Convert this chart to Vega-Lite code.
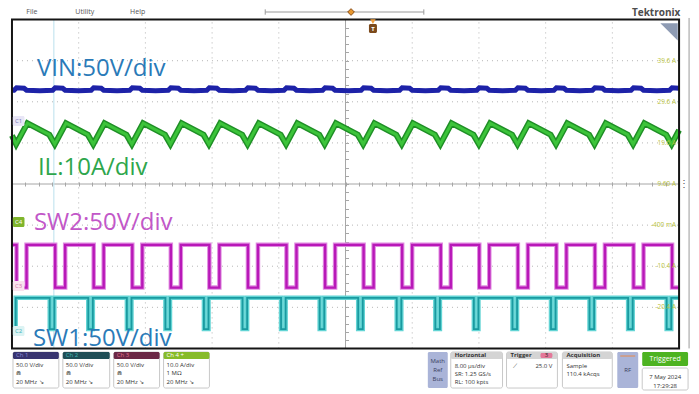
{
"$schema":"https://vega.github.io/schema/vega-lite/v6.json",
"width":699,"height":394,
"autosize":{"type":"fit","contains":"padding"},
"padding":0,
"background":"#ffffff",
"config":{"view":{"stroke":null},"font":"Open Sans"},
"datasets":{
"grid":[{"t":8,"v":-4,"t2":8,"v2":4},{"t":16,"v":-4,"t2":16,"v2":4},{"t":24,"v":-4,"t2":24,"v2":4},{"t":32,"v":-4,"t2":32,"v2":4},{"t":48,"v":-4,"t2":48,"v2":4},{"t":56,"v":-4,"t2":56,"v2":4},{"t":64,"v":-4,"t2":64,"v2":4},{"t":72,"v":-4,"t2":72,"v2":4},{"t":0,"v":-3,"t2":80,"v2":-3},{"t":0,"v":-2,"t2":80,"v2":-2},{"t":0,"v":-1,"t2":80,"v2":-1},{"t":0,"v":1,"t2":80,"v2":1},{"t":0,"v":2,"t2":80,"v2":2},{"t":0,"v":3,"t2":80,"v2":3}],
"center":[{"t":40,"v":-4,"t2":40,"v2":4},{"t":0,"v":0,"t2":80,"v2":0}],
"cursor":[{"t":5.02,"v":-4,"t2":5.02,"v2":4}],
"frame":[{"t":0,"v":-4,"t2":80,"v2":4}],
"rules_gray":[{"t":30.37,"v":4.185,"t2":49.39,"v2":4.185},{"t":30.37,"v":4.12,"t2":30.37,"v2":4.25},{"t":49.39,"v":4.12,"t2":49.39,"v2":4.25},{"t":81.2,"v":-4.0,"t2":81.2,"v2":4.04}],
"rf_line":[{"t":72.95,"v":-4.185,"t2":74.74,"v2":-4.185}],
"ruler_mark":[{"t":40.66,"v":4.185}],
"trig_tri":[{"t":43.29,"v":3.95}],
"magnifier":[{"t":78.8,"v":3.7}],
"vin":[{"t":0,"v":2.28},{"t":0.25,"v":2.28},{"t":0.55,"v":2.34},{"t":1.45,"v":2.33},{"t":1.75,"v":2.28},{"t":3.35,"v":2.27},
{"t":4.88,"v":2.28},{"t":5.18,"v":2.34},{"t":6.08,"v":2.33},{"t":6.38,"v":2.28},{"t":7.98,"v":2.27},
{"t":9.5,"v":2.28},{"t":9.8,"v":2.34},{"t":10.7,"v":2.33},{"t":11.0,"v":2.28},{"t":12.6,"v":2.27},
{"t":14.13,"v":2.28},{"t":14.43,"v":2.34},{"t":15.33,"v":2.33},{"t":15.63,"v":2.28},{"t":17.23,"v":2.27},
{"t":18.75,"v":2.28},{"t":19.05,"v":2.34},{"t":19.95,"v":2.33},{"t":20.25,"v":2.28},{"t":21.85,"v":2.27},
{"t":23.37,"v":2.28},{"t":23.67,"v":2.34},{"t":24.57,"v":2.33},{"t":24.87,"v":2.28},{"t":26.47,"v":2.27},
{"t":28.0,"v":2.28},{"t":28.3,"v":2.34},{"t":29.2,"v":2.33},{"t":29.5,"v":2.28},{"t":31.1,"v":2.27},
{"t":32.62,"v":2.28},{"t":32.92,"v":2.34},{"t":33.82,"v":2.33},{"t":34.12,"v":2.28},{"t":35.72,"v":2.27},
{"t":37.25,"v":2.28},{"t":37.55,"v":2.34},{"t":38.45,"v":2.33},{"t":38.75,"v":2.28},{"t":40.35,"v":2.27},
{"t":41.87,"v":2.28},{"t":42.17,"v":2.34},{"t":43.07,"v":2.33},{"t":43.37,"v":2.28},{"t":44.97,"v":2.27},
{"t":46.49,"v":2.28},{"t":46.79,"v":2.34},{"t":47.69,"v":2.33},{"t":47.99,"v":2.28},{"t":49.59,"v":2.27},
{"t":51.12,"v":2.28},{"t":51.42,"v":2.34},{"t":52.32,"v":2.33},{"t":52.62,"v":2.28},{"t":54.22,"v":2.27},
{"t":55.74,"v":2.28},{"t":56.04,"v":2.34},{"t":56.94,"v":2.33},{"t":57.24,"v":2.28},{"t":58.84,"v":2.27},
{"t":60.37,"v":2.28},{"t":60.67,"v":2.34},{"t":61.57,"v":2.33},{"t":61.87,"v":2.28},{"t":63.47,"v":2.27},
{"t":64.99,"v":2.28},{"t":65.29,"v":2.34},{"t":66.19,"v":2.33},{"t":66.49,"v":2.28},{"t":68.09,"v":2.27},
{"t":69.61,"v":2.28},{"t":69.91,"v":2.34},{"t":70.81,"v":2.33},{"t":71.11,"v":2.28},{"t":72.71,"v":2.27},
{"t":74.24,"v":2.28},{"t":74.54,"v":2.34},{"t":75.44,"v":2.33},{"t":75.74,"v":2.28},{"t":77.34,"v":2.27},
{"t":78.86,"v":2.28},{"t":79.16,"v":2.34},{"t":80,"v":2.33}],
"il":[{"t":0,"v":1.18},{"t":0.5,"v":0.97},{"t":1.85,"v":1.48},
{"t":4.48,"v":1.2},{"t":5.13,"v":0.97},{"t":6.48,"v":1.48},
{"t":9.1,"v":1.2},{"t":9.75,"v":0.97},{"t":11.1,"v":1.48},
{"t":13.73,"v":1.2},{"t":14.38,"v":0.97},{"t":15.73,"v":1.48},
{"t":18.35,"v":1.2},{"t":19.0,"v":0.97},{"t":20.35,"v":1.48},
{"t":22.97,"v":1.2},{"t":23.62,"v":0.97},{"t":24.97,"v":1.48},
{"t":27.6,"v":1.2},{"t":28.25,"v":0.97},{"t":29.6,"v":1.48},
{"t":32.22,"v":1.2},{"t":32.87,"v":0.97},{"t":34.22,"v":1.48},
{"t":36.85,"v":1.2},{"t":37.5,"v":0.97},{"t":38.85,"v":1.48},
{"t":41.47,"v":1.2},{"t":42.12,"v":0.97},{"t":43.47,"v":1.48},
{"t":46.09,"v":1.2},{"t":46.74,"v":0.97},{"t":48.09,"v":1.48},
{"t":50.72,"v":1.2},{"t":51.37,"v":0.97},{"t":52.72,"v":1.48},
{"t":55.34,"v":1.2},{"t":55.99,"v":0.97},{"t":57.34,"v":1.48},
{"t":59.97,"v":1.2},{"t":60.62,"v":0.97},{"t":61.97,"v":1.48},
{"t":64.59,"v":1.2},{"t":65.24,"v":0.97},{"t":66.59,"v":1.48},
{"t":69.21,"v":1.2},{"t":69.86,"v":0.97},{"t":71.21,"v":1.48},
{"t":73.84,"v":1.2},{"t":74.49,"v":0.97},{"t":75.84,"v":1.48},
{"t":78.46,"v":1.2},{"t":79.11,"v":0.97},{"t":80,"v":1.31}],
"sw2":[{"t":0,"v":-1.48},
{"t":0.55,"v":-1.48},{"t":0.55,"v":-2.52},{"t":1.75,"v":-2.52},{"t":1.75,"v":-1.48},
{"t":5.18,"v":-1.48},{"t":5.18,"v":-2.52},{"t":6.38,"v":-2.52},{"t":6.38,"v":-1.48},
{"t":9.8,"v":-1.48},{"t":9.8,"v":-2.52},{"t":11.0,"v":-2.52},{"t":11.0,"v":-1.48},
{"t":14.43,"v":-1.48},{"t":14.43,"v":-2.52},{"t":15.63,"v":-2.52},{"t":15.63,"v":-1.48},
{"t":19.05,"v":-1.48},{"t":19.05,"v":-2.52},{"t":20.25,"v":-2.52},{"t":20.25,"v":-1.48},
{"t":23.67,"v":-1.48},{"t":23.67,"v":-2.52},{"t":24.87,"v":-2.52},{"t":24.87,"v":-1.48},
{"t":28.3,"v":-1.48},{"t":28.3,"v":-2.52},{"t":29.5,"v":-2.52},{"t":29.5,"v":-1.48},
{"t":32.92,"v":-1.48},{"t":32.92,"v":-2.52},{"t":34.12,"v":-2.52},{"t":34.12,"v":-1.48},
{"t":37.55,"v":-1.48},{"t":37.55,"v":-2.52},{"t":38.75,"v":-2.52},{"t":38.75,"v":-1.48},
{"t":42.17,"v":-1.48},{"t":42.17,"v":-2.52},{"t":43.37,"v":-2.52},{"t":43.37,"v":-1.48},
{"t":46.79,"v":-1.48},{"t":46.79,"v":-2.52},{"t":47.99,"v":-2.52},{"t":47.99,"v":-1.48},
{"t":51.42,"v":-1.48},{"t":51.42,"v":-2.52},{"t":52.62,"v":-2.52},{"t":52.62,"v":-1.48},
{"t":56.04,"v":-1.48},{"t":56.04,"v":-2.52},{"t":57.24,"v":-2.52},{"t":57.24,"v":-1.48},
{"t":60.67,"v":-1.48},{"t":60.67,"v":-2.52},{"t":61.87,"v":-2.52},{"t":61.87,"v":-1.48},
{"t":65.29,"v":-1.48},{"t":65.29,"v":-2.52},{"t":66.49,"v":-2.52},{"t":66.49,"v":-1.48},
{"t":69.91,"v":-1.48},{"t":69.91,"v":-2.52},{"t":71.11,"v":-2.52},{"t":71.11,"v":-1.48},
{"t":74.54,"v":-1.48},{"t":74.54,"v":-2.52},{"t":75.74,"v":-2.52},{"t":75.74,"v":-1.48},
{"t":79.16,"v":-1.48},{"t":79.16,"v":-2.52},{"t":80,"v":-2.52}],
"sw1":[{"t":0,"v":-3.53},{"t":0.45,"v":-3.53},{"t":0.45,"v":-2.77},
{"t":4.53,"v":-2.77},{"t":4.53,"v":-3.53},{"t":5.08,"v":-3.53},{"t":5.08,"v":-2.77},
{"t":9.15,"v":-2.77},{"t":9.15,"v":-3.53},{"t":9.7,"v":-3.53},{"t":9.7,"v":-2.77},
{"t":13.78,"v":-2.77},{"t":13.78,"v":-3.53},{"t":14.33,"v":-3.53},{"t":14.33,"v":-2.77},
{"t":18.4,"v":-2.77},{"t":18.4,"v":-3.53},{"t":18.95,"v":-3.53},{"t":18.95,"v":-2.77},
{"t":23.02,"v":-2.77},{"t":23.02,"v":-3.53},{"t":23.57,"v":-3.53},{"t":23.57,"v":-2.77},
{"t":27.65,"v":-2.77},{"t":27.65,"v":-3.53},{"t":28.2,"v":-3.53},{"t":28.2,"v":-2.77},
{"t":32.27,"v":-2.77},{"t":32.27,"v":-3.53},{"t":32.82,"v":-3.53},{"t":32.82,"v":-2.77},
{"t":36.9,"v":-2.77},{"t":36.9,"v":-3.53},{"t":37.45,"v":-3.53},{"t":37.45,"v":-2.77},
{"t":41.52,"v":-2.77},{"t":41.52,"v":-3.53},{"t":42.07,"v":-3.53},{"t":42.07,"v":-2.77},
{"t":46.14,"v":-2.77},{"t":46.14,"v":-3.53},{"t":46.69,"v":-3.53},{"t":46.69,"v":-2.77},
{"t":50.77,"v":-2.77},{"t":50.77,"v":-3.53},{"t":51.32,"v":-3.53},{"t":51.32,"v":-2.77},
{"t":55.39,"v":-2.77},{"t":55.39,"v":-3.53},{"t":55.94,"v":-3.53},{"t":55.94,"v":-2.77},
{"t":60.02,"v":-2.77},{"t":60.02,"v":-3.53},{"t":60.57,"v":-3.53},{"t":60.57,"v":-2.77},
{"t":64.64,"v":-2.77},{"t":64.64,"v":-3.53},{"t":65.19,"v":-3.53},{"t":65.19,"v":-2.77},
{"t":69.26,"v":-2.77},{"t":69.26,"v":-3.53},{"t":69.81,"v":-3.53},{"t":69.81,"v":-2.77},
{"t":73.89,"v":-2.77},{"t":73.89,"v":-3.53},{"t":74.44,"v":-3.53},{"t":74.44,"v":-2.77},
{"t":78.51,"v":-2.77},{"t":78.51,"v":-3.53},{"t":79.06,"v":-3.53},{"t":79.06,"v":-2.77},
{"t":80,"v":-2.77}],
"labels":[{"label":"VIN:50V/div","t":2.99,"v":2.63,"g":"vin"},{"label":"IL:10A/div","t":3.11,"v":0.22,"g":"il"},{"label":"SW2:50V/div","t":2.63,"v":-1.12,"g":"sw2"},{"label":"SW1:50V/div","t":2.51,"v":-3.94,"g":"sw1"}],
"ui_box":[{"t":0.12,"t2":5.62,"v":-4.088,"v2":-4.964},{"t":6.1,"t2":11.72,"v":-4.088,"v2":-4.964},{"t":12.2,"t2":17.7,"v":-4.088,"v2":-4.964},{"t":18.18,"t2":23.68,"v":-4.088,"v2":-4.964},{"t":52.62,"t2":58.83,"v":-4.088,"v2":-4.964},{"t":59.31,"t2":65.41,"v":-4.088,"v2":-4.964},{"t":66.01,"t2":71.99,"v":-4.088,"v2":-4.964},{"t":75.58,"t2":81.08,"v":-4.477,"v2":-5.012}],
"ui_fill":[{"t":0.12,"t2":5.62,"v":-4.088,"v2":-4.258,"g":"ch1"},{"t":6.1,"t2":11.72,"v":-4.088,"v2":-4.258,"g":"ch2"},{"t":12.2,"t2":17.7,"v":-4.088,"v2":-4.258,"g":"ch3"},{"t":18.18,"t2":23.68,"v":-4.088,"v2":-4.258,"g":"ch4"},{"t":49.87,"t2":52.26,"v":-4.088,"v2":-4.964,"g":"lav"},{"t":52.62,"t2":58.83,"v":-4.088,"v2":-4.258,"g":"hdr"},{"t":59.31,"t2":65.41,"v":-4.088,"v2":-4.258,"g":"hdr"},{"t":63.38,"t2":64.81,"v":-4.112,"v2":-4.234,"g":"pink"},{"t":66.01,"t2":71.99,"v":-4.088,"v2":-4.258,"g":"hdr"},{"t":72.59,"t2":75.1,"v":-4.088,"v2":-4.964,"g":"lav"},{"t":75.58,"t2":81.08,"v":-4.088,"v2":-4.428,"g":"trig"},{"t":0.1,"t2":1.5,"v":1.411,"v2":1.655,"g":"b1"},{"t":0.1,"t2":1.5,"v":-0.803,"v2":-1.046,"g":"b4"},{"t":0.1,"t2":1.5,"v":-2.36,"v2":-2.603,"g":"b3"},{"t":0.1,"t2":1.5,"v":-3.455,"v2":-3.698,"g":"b2"},{"t":42.81,"t2":43.77,"v":3.674,"v2":3.893,"g":"brown"}],
"ui_text":[{"label":"File","t":2.39,"v":4.19,"g":"menu"},{"label":"Utility","t":8.73,"v":4.19,"g":"menu"},{"label":"Help","t":15.07,"v":4.19,"g":"menu"},
{"label":"Tektronix","t":77.25,"v":4.17,"g":"tek"},
{"label":"Ch 1","t":0.48,"v":-4.17,"g":"h1"},{"label":"Ch 2","t":6.46,"v":-4.17,"g":"h2"},{"label":"Ch 3","t":12.56,"v":-4.17,"g":"h3"},{"label":"Ch 4  +","t":18.54,"v":-4.17,"g":"h4"},
{"label":"50.0 V/div","t":0.48,"v":-4.392,"g":"body"},{"label":"⋒","t":0.48,"v":-4.599,"g":"body"},{"label":"20 MHz ↘","t":0.48,"v":-4.805,"g":"body"},
{"label":"50.0 V/div","t":6.46,"v":-4.392,"g":"body"},{"label":"⋒","t":6.46,"v":-4.599,"g":"body"},{"label":"20 MHz ↘","t":6.46,"v":-4.805,"g":"body"},
{"label":"50.0 V/div","t":12.56,"v":-4.392,"g":"body"},{"label":"⋒","t":12.56,"v":-4.599,"g":"body"},{"label":"20 MHz ↘","t":12.56,"v":-4.805,"g":"body"},
{"label":"10.0 A/div","t":18.54,"v":-4.392,"g":"body"},{"label":"1 MΩ","t":18.54,"v":-4.599,"g":"body"},{"label":"20 MHz ↘","t":18.54,"v":-4.805,"g":"body"},
{"label":"8.00 µs/div","t":53.09,"v":-4.416,"g":"body"},{"label":"SR: 1.25 GS/s","t":53.09,"v":-4.611,"g":"body"},{"label":"RL: 100 kpts","t":53.09,"v":-4.805,"g":"body"},
{"label":"⟋","t":60.03,"v":-4.416,"g":"body"},{"label":"Sample","t":66.49,"v":-4.416,"g":"body"},{"label":"110.4 kAcqs","t":66.49,"v":-4.611,"g":"body"},
{"label":"Horizontal","t":53.09,"v":-4.17,"g":"hdr"},{"label":"Trigger","t":59.79,"v":-4.17,"g":"hdr"},{"label":"Acquisition","t":66.49,"v":-4.17,"g":"hdr"},
{"label":"25.0 V","t":64.81,"v":-4.416,"g":"bodyr"},
{"label":"3","t":64.1,"v":-4.17,"g":"badge3"},
{"label":"Math","t":51.06,"v":-4.294,"g":"lav"},{"label":"Ref","t":51.06,"v":-4.513,"g":"lav"},{"label":"Bus","t":51.06,"v":-4.732,"g":"lav"},{"label":"RF","t":73.84,"v":-4.513,"g":"lav"},
{"label":"Triggered","t":78.33,"v":-4.26,"g":"trig"},
{"label":"7 May 2024","t":78.33,"v":-4.696,"g":"bodyc"},{"label":"17:29:28","t":78.33,"v":-4.903,"g":"bodyc"},
{"label":"39.6 A","t":79.64,"v":3,"g":"c4s"},{"label":"29.6 A","t":79.64,"v":2,"g":"c4s"},{"label":"19.6 A","t":79.64,"v":1,"g":"c4s"},{"label":"9.60 A","t":79.64,"v":0,"g":"c4s"},{"label":"-400 mA","t":79.64,"v":-1,"g":"c4s"},{"label":"-10.4 A","t":79.64,"v":-2,"g":"c4s"},{"label":"-20.4 A","t":79.64,"v":-3,"g":"c4s"},
{"label":"⋮","t":80.6,"v":0,"g":"dots"},
{"label":"C1","t":0.8,"v":1.533,"g":"bt1"},{"label":"C4","t":0.8,"v":-0.925,"g":"bt4"},{"label":"C3","t":0.8,"v":-2.48,"g":"bt3"},{"label":"C2","t":0.8,"v":-3.577,"g":"bt2"},
{"label":"T","t":43.29,"v":3.78,"g":"tt"}]
},
"encoding":{
"x":{"field":"t","type":"quantitative","scale":{"domain":[-1.196,82.39],"nice":false,"zero":false},"axis":{"orient":"bottom","offset":-212,"values":[1.6,3.2,4.8,6.4,8,9.6,11.2,12.8,14.4,16,17.6,19.2,20.8,22.4,24,25.6,27.2,28.8,30.4,32,33.6,35.2,36.8,38.4,40,41.6,43.2,44.8,46.4,48,49.6,51.2,52.8,54.4,56,57.6,59.2,60.8,62.4,64,65.6,67.2,68.8,70.4,72,73.6,75.2,76.8,78.4],"labels":false,"domain":false,"grid":false,"ticks":true,"tickSize":4,"tickColor":"#a6a6a6","tickWidth":1,"title":null}},
"y":{"field":"v","type":"quantitative","scale":{"domain":[-5.109,4.477],"nice":false,"zero":false},"axis":{"orient":"left","offset":-346.5,"values":[-3.8,-3.6,-3.4,-3.2,-3,-2.8,-2.6,-2.4,-2.2,-2,-1.8,-1.6,-1.4,-1.2,-1,-0.8,-0.6,-0.4,-0.2,0,0.2,0.4,0.6,0.8,1,1.2,1.4,1.6,1.8,2,2.2,2.4,2.6,2.8,3,3.2,3.4,3.6,3.8],"labels":false,"domain":false,"grid":false,"ticks":true,"tickSize":4,"tickColor":"#a6a6a6","tickWidth":1,"title":null}}
},
"layer":[
{"data":{"name":"grid"},"mark":{"type":"rule","color":"#b4b4b4","strokeWidth":1,"strokeDash":[1,4]},"encoding":{"x2":{"field":"t2"},"y2":{"field":"v2"}}},
{"data":{"name":"center"},"mark":{"type":"rule","color":"#a6a6a6","strokeWidth":1},"encoding":{"x2":{"field":"t2"},"y2":{"field":"v2"}}},
{"data":{"name":"cursor"},"mark":{"type":"rule","color":"#c6e6f0","strokeWidth":1.2},"encoding":{"x2":{"field":"t2"},"y2":{"field":"v2"}}},
{"data":{"name":"vin"},"mark":{"type":"line","color":"#1d22a8","strokeWidth":5},"encoding":{"order":{"value":null}}},
{"data":{"name":"il"},"mark":{"type":"line","color":"#1f8f26","strokeWidth":6},"encoding":{"order":{"value":null}}},
{"data":{"name":"il"},"mark":{"type":"line","color":"#3cc43a","strokeWidth":3},"encoding":{"order":{"value":null}}},
{"data":{"name":"sw2"},"mark":{"type":"line","color":"#e08ae0","strokeWidth":4.5},"encoding":{"order":{"value":null}}},
{"data":{"name":"sw2"},"mark":{"type":"line","color":"#b818b8","strokeWidth":2.4},"encoding":{"order":{"value":null}}},
{"data":{"name":"sw1"},"mark":{"type":"line","color":"#62d4d4","strokeWidth":4.5},"encoding":{"order":{"value":null}}},
{"data":{"name":"sw1"},"mark":{"type":"line","color":"#1a9aa0","strokeWidth":1.8},"encoding":{"order":{"value":null}}},
{"data":{"name":"labels"},"mark":{"type":"text","fontSize":24,"align":"left","baseline":"alphabetic","font":"Open Sans"},"encoding":{"text":{"field":"label"},"color":{"field":"g","type":"nominal","scale":{"domain":["vin","il","sw2","sw1"],"range":["#2a7ab8","#2ea64c","#c257c8","#2a7ab8"]},"legend":null}}},
{"data":{"name":"frame"},"mark":{"type":"rect","filled":false,"color":"#151515","strokeWidth":2},"encoding":{"x2":{"field":"t2"},"y2":{"field":"v2"}}},
{"data":{"name":"rules_gray"},"mark":{"type":"rule","color":"#9a9a9a","strokeWidth":1},"encoding":{"x2":{"field":"t2"},"y2":{"field":"v2"}}},
{"data":{"name":"ui_box"},"mark":{"type":"rect","fill":"#ffffff","stroke":"#c8c8c8","strokeWidth":1,"cornerRadius":2},"encoding":{"x2":{"field":"t2"},"y2":{"field":"v2"}}},
{"data":{"name":"ui_fill"},"mark":{"type":"rect","cornerRadius":1.5},"encoding":{"x2":{"field":"t2"},"y2":{"field":"v2"},"fill":{"field":"g","type":"nominal","scale":{"domain":["ch1","ch2","ch3","ch4","hdr","lav","trig","pink","brown","b1","b2","b3","b4"],"range":["#38346f","#1f4e56","#6b2846","#86bb2a","#d4d4d4","#aab4d8","#4db321","#e4789a","#7c4a1c","#e8e6f6","#dcf3f3","#f9e3ee","#7fb52c"]},"legend":null}}},
{"data":{"name":"rf_line"},"mark":{"type":"rule","color":"#e8894a","strokeWidth":1},"encoding":{"x2":{"field":"t2"},"y2":{"field":"v2"}}},
{"data":{"name":"ruler_mark"},"mark":{"type":"point","shape":"diamond","filled":true,"size":45,"fill":"#e8982f","stroke":"#8a4d15","strokeWidth":1,"opacity":1}},
{"data":{"name":"trig_tri"},"mark":{"type":"point","shape":"triangle-down","filled":true,"size":30,"color":"#f0a040","opacity":1}},
{"data":{"name":"magnifier"},"mark":{"type":"point","shape":"M -1 -1 L 1 -1 L 1 1 Z","filled":true,"size":300,"color":"#8e9bb3","opacity":1}},
{"data":{"name":"ui_text"},"transform":[{"filter":"datum.g=='menu'"}],"mark":{"type":"text","fontSize":7,"align":"center","baseline":"middle","color":"#555555"},"encoding":{"text":{"field":"label"}}},
{"data":{"name":"ui_text"},"transform":[{"filter":"datum.g=='tek'"}],"mark":{"type":"text","fontSize":10,"fontWeight":"bold","align":"center","baseline":"middle","color":"#4d4d4d"},"encoding":{"text":{"field":"label"}}},
{"data":{"name":"ui_text"},"transform":[{"filter":"datum.g=='h1'"}],"mark":{"type":"text","fontSize":6,"align":"left","baseline":"middle","color":"#8a86d8"},"encoding":{"text":{"field":"label"}}},
{"data":{"name":"ui_text"},"transform":[{"filter":"datum.g=='h2'"}],"mark":{"type":"text","fontSize":6,"align":"left","baseline":"middle","color":"#3fb6b6"},"encoding":{"text":{"field":"label"}}},
{"data":{"name":"ui_text"},"transform":[{"filter":"datum.g=='h3'"}],"mark":{"type":"text","fontSize":6,"align":"left","baseline":"middle","color":"#e0708e"},"encoding":{"text":{"field":"label"}}},
{"data":{"name":"ui_text"},"transform":[{"filter":"datum.g=='h4'"}],"mark":{"type":"text","fontSize":6,"align":"left","baseline":"middle","color":"#ffffff"},"encoding":{"text":{"field":"label"}}},
{"data":{"name":"ui_text"},"transform":[{"filter":"datum.g=='body'"}],"mark":{"type":"text","fontSize":6,"align":"left","baseline":"middle","color":"#333333"},"encoding":{"text":{"field":"label"}}},
{"data":{"name":"ui_text"},"transform":[{"filter":"datum.g=='hdr'"}],"mark":{"type":"text","fontSize":6,"fontWeight":"bold","align":"left","baseline":"middle","color":"#333333"},"encoding":{"text":{"field":"label"}}},
{"data":{"name":"ui_text"},"transform":[{"filter":"datum.g=='bodyr'"}],"mark":{"type":"text","fontSize":6,"align":"right","baseline":"middle","color":"#333333"},"encoding":{"text":{"field":"label"}}},
{"data":{"name":"ui_text"},"transform":[{"filter":"datum.g=='badge3'"}],"mark":{"type":"text","fontSize":6,"align":"center","baseline":"middle","color":"#2a2a2a"},"encoding":{"text":{"field":"label"}}},
{"data":{"name":"ui_text"},"transform":[{"filter":"datum.g=='lav'"}],"mark":{"type":"text","fontSize":6,"align":"center","baseline":"middle","color":"#3a4160"},"encoding":{"text":{"field":"label"}}},
{"data":{"name":"ui_text"},"transform":[{"filter":"datum.g=='trig'"}],"mark":{"type":"text","fontSize":7,"align":"center","baseline":"middle","color":"#ffffff"},"encoding":{"text":{"field":"label"}}},
{"data":{"name":"ui_text"},"transform":[{"filter":"datum.g=='bodyc'"}],"mark":{"type":"text","fontSize":6,"align":"center","baseline":"middle","color":"#333333"},"encoding":{"text":{"field":"label"}}},
{"data":{"name":"ui_text"},"transform":[{"filter":"datum.g=='c4s'"}],"mark":{"type":"text","fontSize":6.5,"align":"right","baseline":"middle","color":"#b8c23a"},"encoding":{"text":{"field":"label"}}},
{"data":{"name":"ui_text"},"transform":[{"filter":"datum.g=='dots'"}],"mark":{"type":"text","fontSize":10,"align":"center","baseline":"middle","color":"#555555"},"encoding":{"text":{"field":"label"}}},
{"data":{"name":"ui_text"},"transform":[{"filter":"datum.g=='bt1'"}],"mark":{"type":"text","fontSize":6,"align":"center","baseline":"middle","color":"#7a76b8"},"encoding":{"text":{"field":"label"}}},
{"data":{"name":"ui_text"},"transform":[{"filter":"datum.g=='bt4'"}],"mark":{"type":"text","fontSize":6,"align":"center","baseline":"middle","color":"#ffffff"},"encoding":{"text":{"field":"label"}}},
{"data":{"name":"ui_text"},"transform":[{"filter":"datum.g=='bt3'"}],"mark":{"type":"text","fontSize":6,"align":"center","baseline":"middle","color":"#d67aa8"},"encoding":{"text":{"field":"label"}}},
{"data":{"name":"ui_text"},"transform":[{"filter":"datum.g=='bt2'"}],"mark":{"type":"text","fontSize":6,"align":"center","baseline":"middle","color":"#3fb4bc"},"encoding":{"text":{"field":"label"}}},
{"data":{"name":"ui_text"},"transform":[{"filter":"datum.g=='tt'"}],"mark":{"type":"text","fontSize":6,"fontWeight":"bold","align":"center","baseline":"middle","color":"#ffffff"},"encoding":{"text":{"field":"label"}}}
]
}
